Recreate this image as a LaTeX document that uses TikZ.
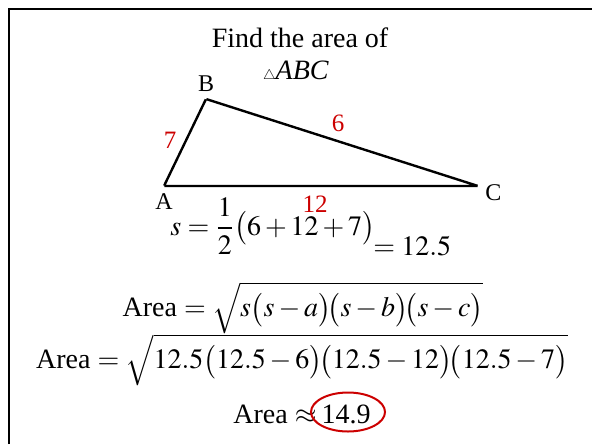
\documentclass[tikz,border=0pt]{standalone}
\usepackage{amsmath, amssymb}
\usepackage{mathptmx}
\usepackage[no-math]{fontspec}
\setmainfont{Liberation Serif}
\usepackage{tikz}
\usetikzlibrary{positioning, shapes.geometric}
\usepackage{xcolor}
\definecolor{markred}{RGB}{204,0,0}

\begin{document}
\begin{tikzpicture}[x=0.5pt, y=-0.5pt,
        vertex/.style={inner sep=0pt, minimum size=0pt},
        lbl/.style={font=\fontsize{12}{14}\selectfont},
        side/.style={text=markred, font=\fontsize{12.5}{15}\selectfont, inner sep=0pt},
        eqn/.style={font=\fontsize{14}{17}\selectfont, inner sep=0pt}]

        \useasboundingbox (0,0) rectangle (592,444);

        % Frame of the slide
        \draw[line width=1.25pt] (9,444) -- (9,9) -- (592,9);

        % Title
        \node[eqn] (title) at (300,38) {Find the area of};
        \node[eqn] (tri) at (296,72) {{\scriptsize$\triangle$}\textit{ABC}};

        % Vertices of the triangle
        \node[vertex, label={[lbl]below:A}] (A) at (164,186) {};
        \node[vertex, label={[lbl]above:B}] (B) at (206,99) {};
        \node[vertex, label={[lbl, yshift=-3.5pt]right:C}] (C) at (478,186) {};

        % Sides
        \draw[line width=1.2pt, line join=miter] (A) -- (B) -- (C) -- (A);

        % Side lengths
        \node[side] (sAB) at (170,140) {7};
        \node[side] (sBC) at (338,123) {6};
        \node[side] (sAC) at (315,204) {12};

        % Semi-perimeter
        \node[eqn, anchor=base west] (semi) at (170,235) {$s=\dfrac{1}{2}\bigl(6+12+7\bigr)$};
        \node[eqn, anchor=base west] (semival) at (373,255) {$=12.5$};

        % Heron's formula
        \node[eqn] (heron) at (303,308) {Area $=\sqrt{s\bigl(s-a\bigr)\!\bigl(s-b\bigr)\!\bigl(s-c\bigr)}$};
        \node[eqn] (subst) at (302,360) {Area $=\sqrt{12.5\bigl(12.5-6\bigr)\!\bigl(12.5-12\bigr)\!\bigl(12.5-7\bigr)}$};

        % Result
        \node[eqn, anchor=base east] (approx) at (317,423) {Area $\approx$};
        \node[eqn, anchor=base] (result) at (346,423) {14.9};
        \node[ellipse, draw=markred, line width=1pt, minimum width=37pt, minimum height=19.5pt] (ring) at (348,412) {};

\end{tikzpicture}
\end{document}
